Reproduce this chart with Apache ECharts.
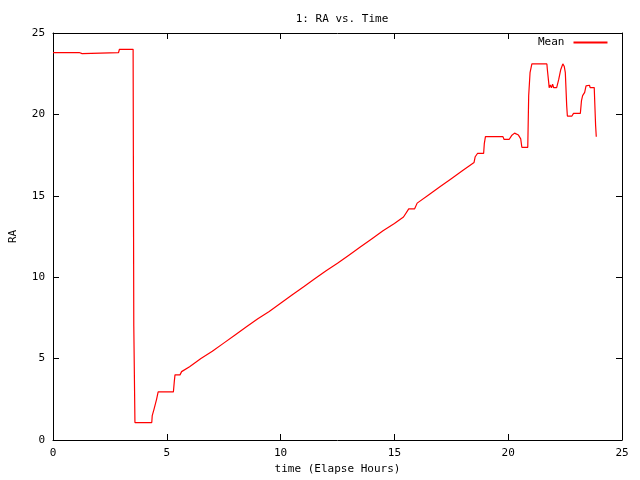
<!DOCTYPE html>
<html>
<head>
<meta charset="utf-8">
<script src="https://cdn.jsdelivr.net/npm/echarts@6/dist/echarts.min.js"></script>
<style>html,body{margin:0;padding:0;background:#fff}#c{width:640px;height:480px}</style>
</head>
<body>
<div id="c"></div>
<script>
var titleText = "1: RA vs. Time";
var xAxisName = "time (Elapse Hours)";
var yAxisName = "RA";
var seriesName = "Mean";
var hours = [0,1.15,1.17,1.28,1.3,2.88,2.92,3.52,3.55,3.6,4.34,4.36,4.42,4.44,4.5,4.55,4.62,5.29,5.33,5.36,5.58,5.65,6,6.5,7,7.5,8,8.5,9,9.5,10,10.5,11,11.5,12,12.5,13,13.5,14,14.5,15,15.4,15.63,15.89,16.0,16.5,17,17.5,18,18.5,18.55,18.62,18.65,18.92,18.95,19.0,19.77,19.82,20.04,20.15,20.28,20.45,20.55,20.6,20.86,20.9,20.96,21.04,21.7,21.72,21.78,21.8,21.85,21.9,21.95,22.0,22.13,22.22,22.31,22.4,22.46,22.51,22.57,22.6,22.8,22.87,23.17,23.22,23.27,23.36,23.42,23.5,23.57,23.6,23.78,23.8,23.84,23.87];
var ra = [23.8,23.8,23.73,23.73,23.8,23.8,24.0,24.0,7,1.07,1.07,1.5,1.6,1.9,1.9,2.5,2.95,2.95,3.6,4.0,4.0,4.2,4.5,5.0,5.45,5.95,6.45,6.95,7.45,7.9,8.4,8.9,9.4,9.9,10.4,10.85,11.35,11.85,12.35,12.85,13.3,13.7,14.2,14.2,14.55,15.05,15.55,16.05,16.55,17.05,17.4,17.4,17.6,17.6,18.2,18.63,18.63,18.46,18.46,18.7,18.85,18.73,18.5,17.98,17.98,21.15,22.56,23.1,23.1,22.76,21.95,21.64,21.8,21.64,21.85,21.64,21.64,22.15,22.76,23.1,22.96,22.56,20.54,19.9,19.9,20.06,20.06,20.85,21.15,21.35,21.75,21.85,21.79,21.65,21.65,20.85,19.33,18.63];
var xTicks = [0,5,10,15,20,25];
var yTicks = [0,5,10,15,20,25];

var data = hours.map(function(h,i){return [h, ra[i]];});
var font = "'DejaVu Sans Mono', monospace";
var chart = echarts.init(document.getElementById('c'), null, {renderer:'canvas'});
function axisBase(pos, showLabel){
  return {
    type:'value', position:pos, min:xTicks[0], max:xTicks[xTicks.length-1], interval:xTicks[1]-xTicks[0],
    axisLine:{show:true, onZero:false, lineStyle:{color:'#000', width:1}},
    axisTick:{show:true, inside:true, length:6, lineStyle:{color:'#000', width:1}},
    axisLabel:{show:showLabel, color:'#000', fontFamily:font, fontSize:11, margin:8},
    splitLine:{show:false}
  };
}
var xb = axisBase('bottom', true);
xb.name = xAxisName; xb.nameLocation='middle'; xb.nameGap=24;
xb.nameTextStyle = {color:'#000', fontFamily:font, fontSize:11};
var xt = axisBase('top', false);
var yl = axisBase('left', true);
yl.min = yTicks[0]; yl.max = yTicks[yTicks.length-1]; yl.interval = yTicks[1]-yTicks[0];
yl.name = yAxisName; yl.nameLocation='middle'; yl.nameGap=34; yl.nameRotate=90;
yl.nameTextStyle = {color:'#000', fontFamily:font, fontSize:11};
var yr = axisBase('right', false);
yr.min = yl.min; yr.max = yl.max; yr.interval = yl.interval;
chart.setOption({
  animation:false,
  backgroundColor:'#fff',
  title:{text:titleText, left:337, top:9, textAlign:'center',
    textStyle:{color:'#000', fontFamily:font, fontSize:11, fontWeight:'normal'}},
  grid:{left:52, right:18, top:33, bottom:34, containLabel:false},
  legend:{show:true, left:538, top:37, bottom:'auto', right:'auto', orient:'horizontal', align:'right',
    itemWidth:34, itemHeight:2, itemGap:0, padding:0,
    textStyle:{color:'#000', fontFamily:font, fontSize:11, padding:[0,4,0,0]},
    data:[{name:seriesName, icon:'rect', itemStyle:{color:'#ff0000', borderWidth:0}}]},
  xAxis:[xb, xt],
  yAxis:[yl, yr],
  series:[{name:seriesName, type:'line', xAxisIndex:0, yAxisIndex:0, data:data,
    showSymbol:false, symbol:'none', lineStyle:{color:'#ff0000', width:1.2}, itemStyle:{color:'#ff0000'}}]
});
</script>
</body>
</html>
